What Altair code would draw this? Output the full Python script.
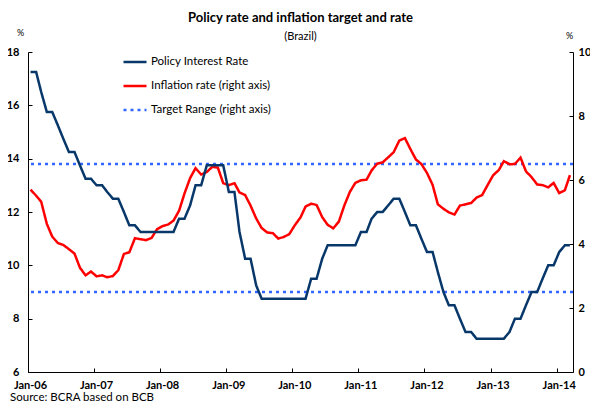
import altair as alt
import pandas as pd

# ---- data ----
policy = [
    17.25, 17.25, 16.5, 15.75, 15.75, 15.25, 14.75, 14.25, 14.25, 13.75, 13.25, 13.25,
    13.0, 13.0, 12.75, 12.5, 12.5, 12.0, 11.5, 11.5, 11.25, 11.25, 11.25, 11.25,
    11.25, 11.25, 11.25, 11.75, 11.75, 12.25, 13.0, 13.0, 13.75, 13.75, 13.75, 13.75,
    12.75, 12.75, 11.25, 10.25, 10.25, 9.25, 8.75, 8.75, 8.75, 8.75, 8.75, 8.75,
    8.75, 8.75, 8.75, 9.5, 9.5, 10.25, 10.75, 10.75, 10.75, 10.75, 10.75, 10.75,
    11.25, 11.25, 11.75, 12.0, 12.0, 12.25, 12.5, 12.5, 12.0, 11.5, 11.5, 11.0,
    10.5, 10.5, 9.75, 9.0, 8.5, 8.5, 8.0, 7.5, 7.5, 7.25, 7.25, 7.25,
    7.25, 7.25, 7.25, 7.5, 8.0, 8.0, 8.5, 9.0, 9.0, 9.5, 10.0, 10.0,
    10.5, 10.75, 10.75,
]
inflation = [
    5.70, 5.51, 5.32, 4.63, 4.23, 4.03, 3.97, 3.84, 3.70, 3.26, 3.02, 3.14,
    2.99, 3.02, 2.96, 3.00, 3.18, 3.69, 3.74, 4.18, 4.15, 4.12, 4.19, 4.46,
    4.56, 4.61, 4.73, 5.04, 5.58, 6.06, 6.37, 6.17, 6.25, 6.41, 6.39, 5.90,
    5.84, 5.90, 5.61, 5.53, 5.20, 4.80, 4.50, 4.36, 4.34, 4.17, 4.22, 4.31,
    4.59, 4.83, 5.17, 5.26, 5.22, 4.84, 4.60, 4.49, 4.70, 5.20, 5.63, 5.91,
    5.99, 6.01, 6.30, 6.51, 6.55, 6.71, 6.87, 7.23, 7.31, 6.97, 6.64, 6.50,
    6.22, 5.85, 5.24, 5.10, 4.99, 4.92, 5.20, 5.24, 5.28, 5.45, 5.53, 5.84,
    6.15, 6.31, 6.59, 6.49, 6.50, 6.70, 6.27, 6.09, 5.86, 5.84, 5.77, 5.91,
    5.59, 5.68, 6.15,
]
targets = [2.5, 6.5]
series_names = ["Policy Interest Rate", "Inflation rate (right axis)", "Target Range (right axis)"]
series_colors = ["#08386A", "#FF0000", "#3366FF"]
series_dashes = [[1, 0], [1, 0], [3, 4]]
tick_years = [2006, 2007, 2008, 2009, 2010, 2011, 2012, 2013, 2014]
left_ticks = [6, 8, 10, 12, 14, 16, 18]
right_ticks = [0, 2, 4, 6, 8, 10]
source_text = ["Source: BCRA based on BCB"]

months = [f"{2006 + i // 12}-{i % 12 + 1:02d}-15" for i in range(len(policy))]

df_pol = pd.DataFrame({"date": months, "value": policy, "series": series_names[0]})
df_inf = pd.DataFrame({"date": months, "value": inflation, "series": series_names[1]})
df_tgt = pd.DataFrame({"value": targets, "series": series_names[2]})
df_src = pd.DataFrame({"t": source_text})

FONT = "Lato"
W, H = 545, 320
PAD_L, PAD_T, PAD_R, PAD_B = 20, 44, 17, 30

xscale = alt.Scale(type="utc", domain=[alt.DateTime(year=2006, month=1, date=1, utc=True),
                                       alt.DateTime(year=2014, month=4, date=1, utc=True)])
xvals = [alt.DateTime(year=y, month=1, date=1, utc=True) for y in tick_years]

x_axis_main = alt.Axis(orient="bottom", values=xvals, labelExpr="utcFormat(datum.value, '%b-%y')",
                       ticks=False, tickSize=0, domain=True, domainColor="#000", domainWidth=1,
                       labelPadding=7, labelOffset=2, labelFlush=False, labelFont=FONT,
                       labelFontWeight="bold", labelFontSize=11, labelColor="#000",
                       labelOverlap=False, grid=False, title=None)
x_axis_ticks = alt.Axis(orient="bottom", values=xvals, offset=-4, tickSize=4, ticks=True,
                        tickColor="#000", domain=False, labels=False, grid=False, title=None)

yl_scale = alt.Scale(domain=[6, 18], nice=False, zero=False)
yr_scale = alt.Scale(domain=[0, 10], nice=False, zero=False)

yl_main = alt.Axis(orient="left", values=left_ticks, ticks=False, tickSize=0, domain=True,
                   domainColor="#000", labelPadding=9, labelFont=FONT, labelFontWeight="bold",
                   labelFontSize=11, labelColor="#000", grid=False, title="%", titleAngle=0,
                   titleX=-8, titleY=-15, titleAlign="center", titleBaseline="bottom",
                   titleFont=FONT, titleFontSize=9, titleFontWeight="normal", titleColor="#000")
yl_ticks = alt.Axis(orient="left", values=left_ticks, offset=-4, tickSize=4, ticks=True,
                    tickColor="#000", domain=False, labels=False, grid=False, title=None)
yr_main = alt.Axis(orient="right", values=right_ticks, ticks=False, tickSize=0, domain=True,
                   domainColor="#000", labelPadding=5, labelFont=FONT, labelFontWeight="bold",
                   labelFontSize=11, labelColor="#000", grid=False, title="%", titleAngle=0,
                   titleX=-4, titleY=-12, titleAlign="center", titleBaseline="bottom",
                   titleFont=FONT, titleFontSize=9, titleFontWeight="normal", titleColor="#000")
yr_ticks = alt.Axis(orient="right", values=right_ticks, offset=-4, tickSize=4, ticks=True,
                    tickColor="#000", domain=False, labels=False, grid=False, title=None)

leg = alt.Legend(orient="none", legendX=94, legendY=-3, title=None, symbolType="stroke",
                 symbolSize=529, symbolStrokeWidth=2.5, labelFont=FONT, labelFontSize=11.5,
                 labelColor="#000", labelOffset=3, rowPadding=5, padding=0, labelLimit=0,
                 direction="vertical")
color_enc = alt.Color("series:N", scale=alt.Scale(domain=series_names, range=series_colors), legend=leg)
dash_enc = alt.StrokeDash("series:N", scale=alt.Scale(domain=series_names, range=series_dashes), legend=leg)

x_main = alt.X("date:T", scale=xscale, axis=x_axis_main)
x_tick = alt.X("date:T", scale=xscale, axis=x_axis_ticks)

A1 = alt.Chart(df_pol).mark_line(strokeWidth=2.5).encode(
    x=x_main, y=alt.Y("value:Q", scale=yl_scale, axis=yl_main), color=color_enc, strokeDash=dash_enc)
A2 = alt.Chart(df_pol).mark_line(opacity=0).encode(
    x=x_main, y=alt.Y("value:Q", scale=yl_scale, axis=yl_ticks))
A = alt.layer(A1, A2).resolve_axis(y="independent")

B2 = alt.Chart(df_tgt).mark_rule(strokeWidth=2.5).encode(
    y=alt.Y("value:Q", scale=yr_scale, axis=None), color=color_enc, strokeDash=dash_enc)
B1 = alt.Chart(df_inf).mark_line(strokeWidth=2.5).encode(
    x=x_tick, y=alt.Y("value:Q", scale=yr_scale, axis=yr_main), color=color_enc, strokeDash=dash_enc)
B3 = alt.Chart(df_inf).mark_line(opacity=0).encode(
    x=x_tick, y=alt.Y("value:Q", scale=yr_scale, axis=yr_ticks))
B = alt.layer(B2, B1, B3).resolve_axis(y="independent")

C = alt.Chart(df_src).mark_text(align="left", baseline="alphabetic", font=FONT, fontSize=11.5,
                                color="#000").encode(text="t:N", x=alt.value(-18),
                                                     y=alt.value(H + PAD_B - 1))

chart = alt.layer(B, A, C).resolve_scale(y="independent").resolve_axis(x="independent").properties(
    width=W, height=H,
    title=alt.TitleParams(text="Policy rate and inflation target and rate", subtitle="(Brazil)",
                          font=FONT, fontSize=13, fontWeight="bold", color="#000",
                          subtitleFont=FONT, subtitleFontSize=11, subtitleColor="#000",
                          subtitlePadding=6, anchor="middle", offset=-14),
    autosize=alt.AutoSizeParams(type="none"),
    padding={"left": PAD_L, "top": PAD_T, "right": PAD_R, "bottom": PAD_B},
).configure_view(stroke=None)

chart.save("out.html", embed_options={"renderer": "svg", "actions": False})
